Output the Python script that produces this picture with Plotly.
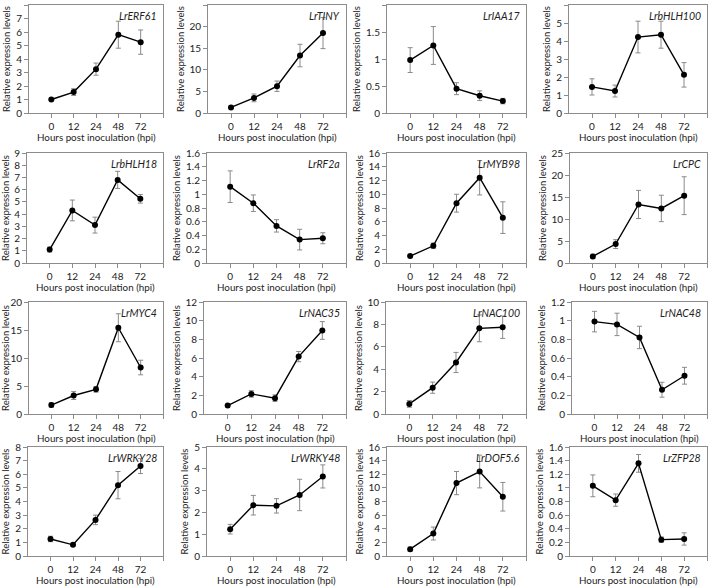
import plotly.graph_objects as go

# ---------------- data ----------------
hours = ["0", "12", "24", "48", "72"]
genes = ["LrERF61", "LrTINY", "LrIAA17", "LrbHLH100",
         "LrbHLH18", "LrRF2a", "LrMYB98", "LrCPC",
         "LrMYC4", "LrNAC35", "LrNAC100", "LrNAC48",
         "LrWRKY28", "LrWRKY48", "LrDOF5.6", "LrZFP28"]

ERF61_mean = [1.0, 1.55, 3.25, 5.8, 5.25]
ERF61_err = [0.06, 0.25, 0.45, 1.0, 0.9]
TINY_mean = [1.3, 3.5, 6.2, 13.3, 18.5]
TINY_err = [0.3, 0.9, 1.2, 2.6, 3.6]
IAA17_mean = [0.98, 1.25, 0.45, 0.32, 0.22]
IAA17_err = [0.23, 0.35, 0.11, 0.09, 0.05]
bHLH100_mean = [1.45, 1.22, 4.22, 4.35, 2.12]
bHLH100_err = [0.45, 0.33, 0.88, 0.75, 0.68]
bHLH18_mean = [1.1, 4.3, 3.1, 6.8, 5.25]
bHLH18_err = [0.2, 0.85, 0.65, 0.7, 0.35]
RF2a_mean = [1.11, 0.87, 0.54, 0.34, 0.36]
RF2a_err = [0.23, 0.12, 0.09, 0.15, 0.08]
MYB98_mean = [1.0, 2.5, 8.7, 12.4, 6.6]
MYB98_err = [0.1, 0.4, 1.3, 2.5, 2.3]
CPC_mean = [1.5, 4.3, 13.3, 12.4, 15.3]
CPC_err = [0.5, 1.0, 3.2, 3.0, 4.3]
MYC4_mean = [1.6, 3.3, 4.4, 15.4, 8.3]
MYC4_err = [0.4, 0.7, 0.5, 2.5, 1.3]
NAC35_mean = [0.9, 2.15, 1.7, 6.15, 8.95]
NAC35_err = [0.15, 0.35, 0.35, 0.55, 0.95]
NAC100_mean = [0.9, 2.35, 4.6, 7.65, 7.75]
NAC100_err = [0.3, 0.5, 0.9, 1.2, 1.0]
NAC48_mean = [0.99, 0.96, 0.82, 0.26, 0.41]
NAC48_err = [0.11, 0.12, 0.12, 0.08, 0.09]
WRKY28_mean = [1.25, 0.82, 2.65, 5.2, 6.6]
WRKY28_err = [0.2, 0.05, 0.35, 1.0, 0.55]
WRKY48_mean = [1.23, 2.33, 2.3, 2.8, 3.65]
WRKY48_err = [0.22, 0.45, 0.33, 0.72, 0.53]
DOF56_mean = [1.0, 3.3, 10.7, 12.4, 8.7]
DOF56_err = [0.3, 0.95, 1.7, 2.4, 2.1]
ZFP28_mean = [1.03, 0.82, 1.36, 0.24, 0.25]
ZFP28_err = [0.16, 0.09, 0.13, 0.04, 0.09]

means = [ERF61_mean, TINY_mean, IAA17_mean, bHLH100_mean,
         bHLH18_mean, RF2a_mean, MYB98_mean, CPC_mean,
         MYC4_mean, NAC35_mean, NAC100_mean, NAC48_mean,
         WRKY28_mean, WRKY48_mean, DOF56_mean, ZFP28_mean]
errs = [ERF61_err, TINY_err, IAA17_err, bHLH100_err,
        bHLH18_err, RF2a_err, MYB98_err, CPC_err,
        MYC4_err, NAC35_err, NAC100_err, NAC48_err,
        WRKY28_err, WRKY48_err, DOF56_err, ZFP28_err]
y_max = [8, 25, 2, 6, 9, 1.6, 16, 25, 20, 12, 10, 1.2, 8, 5, 16, 1.6]
y_step = [1, 5, 0.5, 1, 1, 0.2, 2, 5, 5, 2, 2, 0.2, 1, 1, 2, 0.2]
x_title = "Hours post inoculation (hpi)"
y_title = "Relative expression levels"

# ---------------- layout geometry (pixels) ----------------
W, H = 709, 588
left_px = [[29, 208, 387, 569],
           [27, 207, 387, 570],
           [29, 204, 386, 572],
           [28, 207, 387, 570]]
right_px = [163, 346, 526, 707]
top_px = [5, 153, 302, 447]
bottom_px = [113, 263, 414, 556]

FONT = "Lato, 'Open Sans', sans-serif"
AX = "#8c8c8c"
TXT = "#222222"

fig = go.Figure()
layout = dict(
    width=W, height=H, autosize=False,
    margin=dict(l=0, r=0, t=0, b=0, pad=0),
    paper_bgcolor="white", plot_bgcolor="white",
    showlegend=False,
    font=dict(family=FONT, size=10, color=TXT),
)
annotations = []
xidx = list(range(len(hours)))

for i, g in enumerate(genes):
    r, c = divmod(i, 4)
    n = i + 1
    xa = "x" if n == 1 else f"x{n}"
    ya = "y" if n == 1 else f"y{n}"
    fig.add_trace(go.Scatter(
        x=xidx, y=means[i], xaxis=xa, yaxis=ya,
        mode="lines+markers",
        line=dict(color="black", width=1.4),
        marker=dict(color="black", size=6),
        error_y=dict(type="data", array=errs[i], color="#8a8a8a",
                     thickness=1, width=2.5),
        hoverinfo="skip",
    ))
    x0 = left_px[r][c] / W
    x1 = right_px[c] / W
    y0 = 1 - bottom_px[r] / H
    y1 = 1 - top_px[r] / H
    layout["xaxis" + ("" if n == 1 else str(n))] = dict(
        domain=[x0, x1], anchor=ya, range=[-1, 5], automargin=False,
        tickmode="array", tickvals=[0, 1, 2, 3, 4, 5],
        ticktext=hours + [""],
        ticks="outside", ticklen=4, tickcolor=AX, tickwidth=1,
        showline=True, linecolor=AX, linewidth=1, mirror=True,
        showgrid=False, zeroline=False, fixedrange=True,
        tickfont=dict(size=10, color=TXT),
    )
    layout["yaxis" + ("" if n == 1 else str(n))] = dict(
        domain=[y0, y1], anchor=xa, range=[0, y_max[i]], automargin=False,
        dtick=y_step[i], tick0=0,
        ticks="outside", ticklen=4, tickcolor=AX, tickwidth=1,
        showline=True, linecolor=AX, linewidth=1, mirror=True,
        showgrid=False, zeroline=False, fixedrange=True,
        tickfont=dict(size=10, color=TXT),
        title=dict(text=y_title, font=dict(size=9.5, color=TXT), standoff=3),
    )
    annotations.append(dict(
        text=f"<i>{g}</i>", xref=f"{xa} domain", yref=f"{ya} domain",
        x=1, y=1, xanchor="right", yanchor="top", xshift=-4, yshift=-3,
        showarrow=False, font=dict(size=10.5, color=TXT),
    ))
    annotations.append(dict(
        text=x_title, xref=f"{xa} domain", yref=f"{ya} domain",
        x=0.5, y=0, xanchor="center", yanchor="middle", yshift=-24,
        showarrow=False, font=dict(size=9.8, color=TXT),
    ))

layout["annotations"] = annotations
fig.update_layout(**layout)
fig.write_html(
    "out.html",
    config={"displayModeBar": False, "staticPlot": True},
    post_script="document.body.style.margin='0';document.body.style.overflow='hidden';",
)
